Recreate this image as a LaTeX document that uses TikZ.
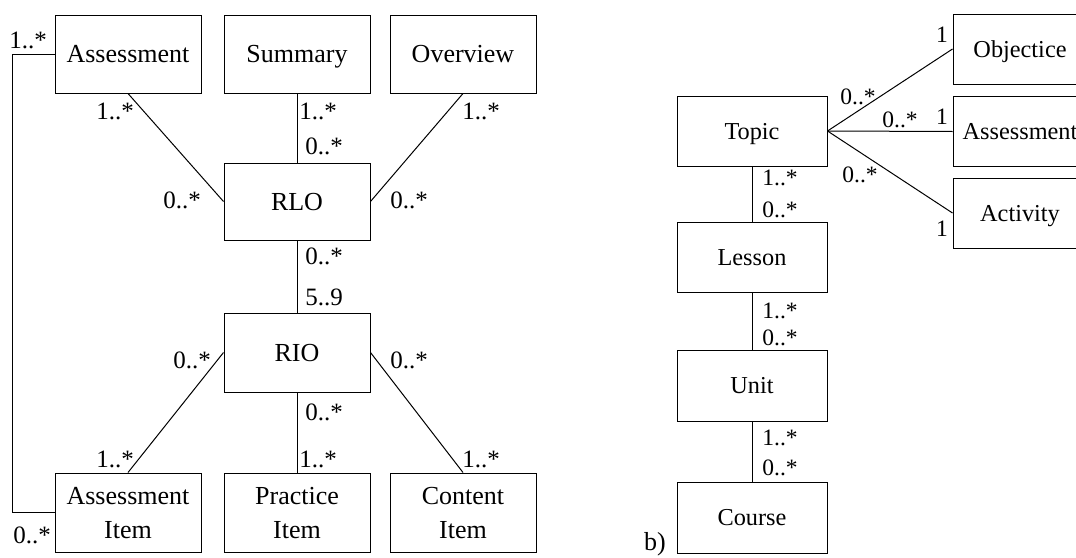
\documentclass[tikz,border=0pt]{standalone}
\usepackage{fontspec}
\setmainfont{Liberation Serif}
\usetikzlibrary{calc}

\tikzset{
	umlclass/.style={draw, line width=1pt, inner sep=0pt, minimum width=146pt, minimum height=78pt, align=center, text height=17pt, text depth=0pt, font=\fontsize{26}{34}\selectfont},
	itemclass/.style={umlclass, minimum height=79pt, text height=51pt},
	smallclass/.style={umlclass, minimum width=150pt, minimum height=70pt, text height=16pt, font=\fontsize{24.3}{28}\selectfont},
	mult/.style={inner sep=0pt, font=\fontsize{25}{28}\selectfont},
	smallmult/.style={inner sep=0pt, font=\fontsize{23.5}{26}\selectfont},
	assoc/.style={line width=1pt}
}

\begin{document}
\begin{tikzpicture}[x=1pt, y=-1pt]
			% The page is exactly as big as the reference, and the boxes on the far right run off its edge
			\useasboundingbox (0, 0) rectangle (1076, 557);
			\clip (0, 0) rectangle (1076, 557);

			% a) The learning object model. Top row of classes hanging above the RLO
			\node[umlclass] (assess) at (128, 54) {Assessment};
			\node[umlclass] (summary) at (297, 54) {Summary};
			\node[umlclass] (overview) at (463, 54) {Overview};

			% The RLO and the RIO in the middle column
			\node[umlclass, minimum height=77pt] (rlo) at (297, 201.5) {RLO};
			\node[umlclass, minimum height=79pt] (rio) at (297, 352.5) {RIO};

			% Bottom row of items that make up a RIO
			\node[itemclass] (aitem) at (128, 512.5) {Assessment\\Item};
			\node[itemclass] (pitem) at (297, 512.5) {Practice\\Item};
			\node[itemclass] (citem) at (463, 512.5) {Content\\Item};

			% The associations. The first one runs round the left side, from Assessment down to Assessment Item
			\coordinate (loopx) at (12, 0);
			\draw[assoc] (assess.west) -- (assess.west -| loopx) |- (aitem.west);
			\draw[assoc] (assess.south) -- (rlo.west);
			\draw[assoc] (summary.south) -- (rlo.north);
			\draw[assoc] (overview.south) -- (rlo.east);
			\draw[assoc] (rlo.south) -- (rio.north);
			\draw[assoc] (rio.west) -- (aitem.north);
			\draw[assoc] (rio.south) -- (pitem.north);
			\draw[assoc] (rio.east) -- (citem.north);

			% Multiplicities of the left model
			\node[mult] at (28, 40) {1..*};
			\node[mult] at (32, 535) {0..*};
			\node[mult] at (115, 111) {1..*};
			\node[mult] at (318, 111) {1..*};
			\node[mult] at (481, 111) {1..*};
			\node[mult] at (324, 146) {0..*};
			\node[mult] at (182, 200) {0..*};
			\node[mult] at (409, 200) {0..*};
			\node[mult] at (324, 256) {0..*};
			\node[mult] at (324, 297) {5..9};
			\node[mult] at (192, 360) {0..*};
			\node[mult] at (409, 360) {0..*};
			\node[mult] at (324, 412) {0..*};
			\node[mult] at (115, 459) {1..*};
			\node[mult] at (318, 459) {1..*};
			\node[mult] at (481, 459) {1..*};

			% b) The course model. A column of classes from Topic down to Course
			\node[smallclass] (topic) at (752, 131) {Topic};
			\node[smallclass] (lesson) at (752, 257) {Lesson};
			\node[smallclass, minimum height=71pt] (unit) at (752, 385.5) {Unit};
			\node[smallclass, minimum height=71pt] (course) at (752, 517.5) {Course};

			% The three classes to the right of Topic
			\node[smallclass, minimum width=134pt] (objective) at (1020, 49) {Objectice};
			\node[smallclass, minimum width=134pt] (rassess) at (1020, 131.5) {Assessment};
			\node[smallclass, minimum width=134pt] (activity) at (1020, 213) {Activity};

			% Associations of the right model
			\draw[assoc] (topic.south) -- (lesson.north);
			\draw[assoc] (lesson.south) -- (unit.north);
			\draw[assoc] (unit.south) -- (course.north);
			\draw[assoc] (topic.east) -- (objective.west);
			\draw[assoc] (topic.east) -- (rassess.west);
			\draw[assoc] (topic.east) -- (activity.west);

			% Multiplicities of the right model
			\node[smallmult] at (858, 97) {0..*};
			\node[smallmult] at (900, 120) {0..*};
			\node[smallmult] at (860, 175) {0..*};
			\node[smallmult] at (942, 35) {1};
			\node[smallmult] at (942, 117) {1};
			\node[smallmult] at (942, 229) {1};
			\node[smallmult] at (780, 178) {1..*};
			\node[smallmult] at (780, 210) {0..*};
			\node[smallmult] at (780, 311) {1..*};
			\node[smallmult] at (780, 338) {0..*};
			\node[smallmult] at (780, 438) {1..*};
			\node[smallmult] at (780, 468) {0..*};

			% The sub-figure letter
			\node[mult, anchor=base, font=\fontsize{26}{28}\selectfont] (blabel) at (655, 550) {b)};
	\end{tikzpicture}
\end{document}
